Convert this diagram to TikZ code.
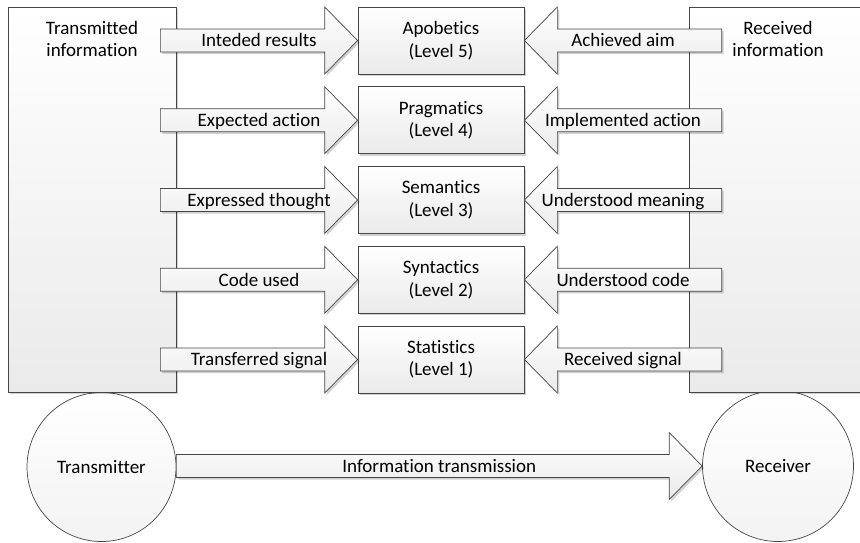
\documentclass[tikz,border=0pt]{standalone}
\usepackage{fontspec}
\setmainfont{Carlito}[Ligatures={NoCommon}]
\usetikzlibrary{calc,shadows}
\definecolor{edge}{RGB}{70,70,70}
\definecolor{shadeb}{RGB}{234,234,234}

% Horizontal block arrow: #1 name of its label, #2 tail, #3 tip, #4 label text
\newcommand\blockarrow[4]{%
  \path[blockarrow] let \p1=(#2), \p2=(#3), \n1={ifthenelse(\x2>\x1,1,-1)} in
    (\x1,\y2+11.5pt) -- (\x2-\n1*33pt,\y2+11.5pt) -- (\x2-\n1*33pt,\y2+33.5pt) -- (\x2,\y2)
    -- (\x2-\n1*33pt,\y2-33.5pt) -- (\x2-\n1*33pt,\y2-11.5pt) -- (\x1,\y2-11.5pt) -- cycle
    ({(\x1+\x2)/2},\y2) node[arrowtext] (#1) {#4};
}

\begin{document}
\begin{tikzpicture}[x=1pt,y=-1pt,
  font=\fontsize{19}{22.5}\selectfont,
  softshadow/.style={drop shadow={shadow xshift=2pt,shadow yshift=-2pt,opacity=0.18,fill=black}},
  panel/.style={draw=edge,line width=0.7pt,top color=white,bottom color=shadeb,softshadow,inner sep=0pt},
  level/.style={panel,minimum width=166pt,minimum height=67pt,align=center},
  station/.style={circle,draw=edge,line width=0.7pt,top color=white,bottom color=shadeb!60!white,inner sep=0pt},
  blockarrow/.style={draw=edge,line width=0.7pt,top color=white,bottom color=shadeb,softshadow,line join=miter},
  arrowtext/.style={inner sep=0pt,text height=12.5pt,text depth=0pt},
  heading/.style={anchor=north,align=center,inner sep=0pt,yshift=-14pt}
]
\useasboundingbox (0,0) rectangle (860,542);
\clip (0,0) rectangle (860,542);

% transmitter and receiver
\node[station,minimum size=149pt] (tm) at (101.5,467) {Transmitter};
\node[station,minimum size=151pt] (rc) at (778,466) {Receiver};

% information panels
\node[panel,minimum width=168pt,minimum height=385pt] (tx) at (92,199.5) {};
\node[heading] (txt) at (tx.north) {Transmitted\\information};
\node[panel,minimum width=178pt,minimum height=385pt] (rx) at (778,199.5) {};
\node[heading] (rxt) at (rx.north) {Received\\information};

% semiotic levels
\node[level] (L5) at (441,40.5)  {Apobetics\\(Level 5)};
\node[level] (L4) at (441,120.25) {Pragmatics\\(Level 4)};
\node[level] (L3) at (441,200)   {Semantics\\(Level 3)};
\node[level] (L2) at (441,279.75) {Syntactics\\(Level 2)};
\node[level] (L1) at (441,359.5) {Statistics\\(Level 1)};

% sender side
\blockarrow{s5}{[xshift=-16pt]tx.east}{L5.west}{Inteded results}
\blockarrow{s4}{[xshift=-16pt]tx.east}{L4.west}{Expected action}
\blockarrow{s3}{[xshift=-16pt]tx.east}{L3.west}{Expressed thought}
\blockarrow{s2}{[xshift=-16pt]tx.east}{L2.west}{Code used}
\blockarrow{s1}{[xshift=-16pt]tx.east}{L1.west}{Transferred signal}

% receiver side
\blockarrow{r5}{[xshift=33pt]rx.west}{L5.east}{Achieved aim}
\blockarrow{r4}{[xshift=33pt]rx.west}{L4.east}{Implemented action}
\blockarrow{r3}{[xshift=33pt]rx.west}{L3.east}{Understood meaning}
\blockarrow{r2}{[xshift=33pt]rx.west}{L2.east}{Understood code}
\blockarrow{r1}{[xshift=33pt]rx.west}{L1.east}{Received signal}

% channel
\blockarrow{ch}{tm.east}{rc.west}{Information transmission}
\end{tikzpicture}
\end{document}
